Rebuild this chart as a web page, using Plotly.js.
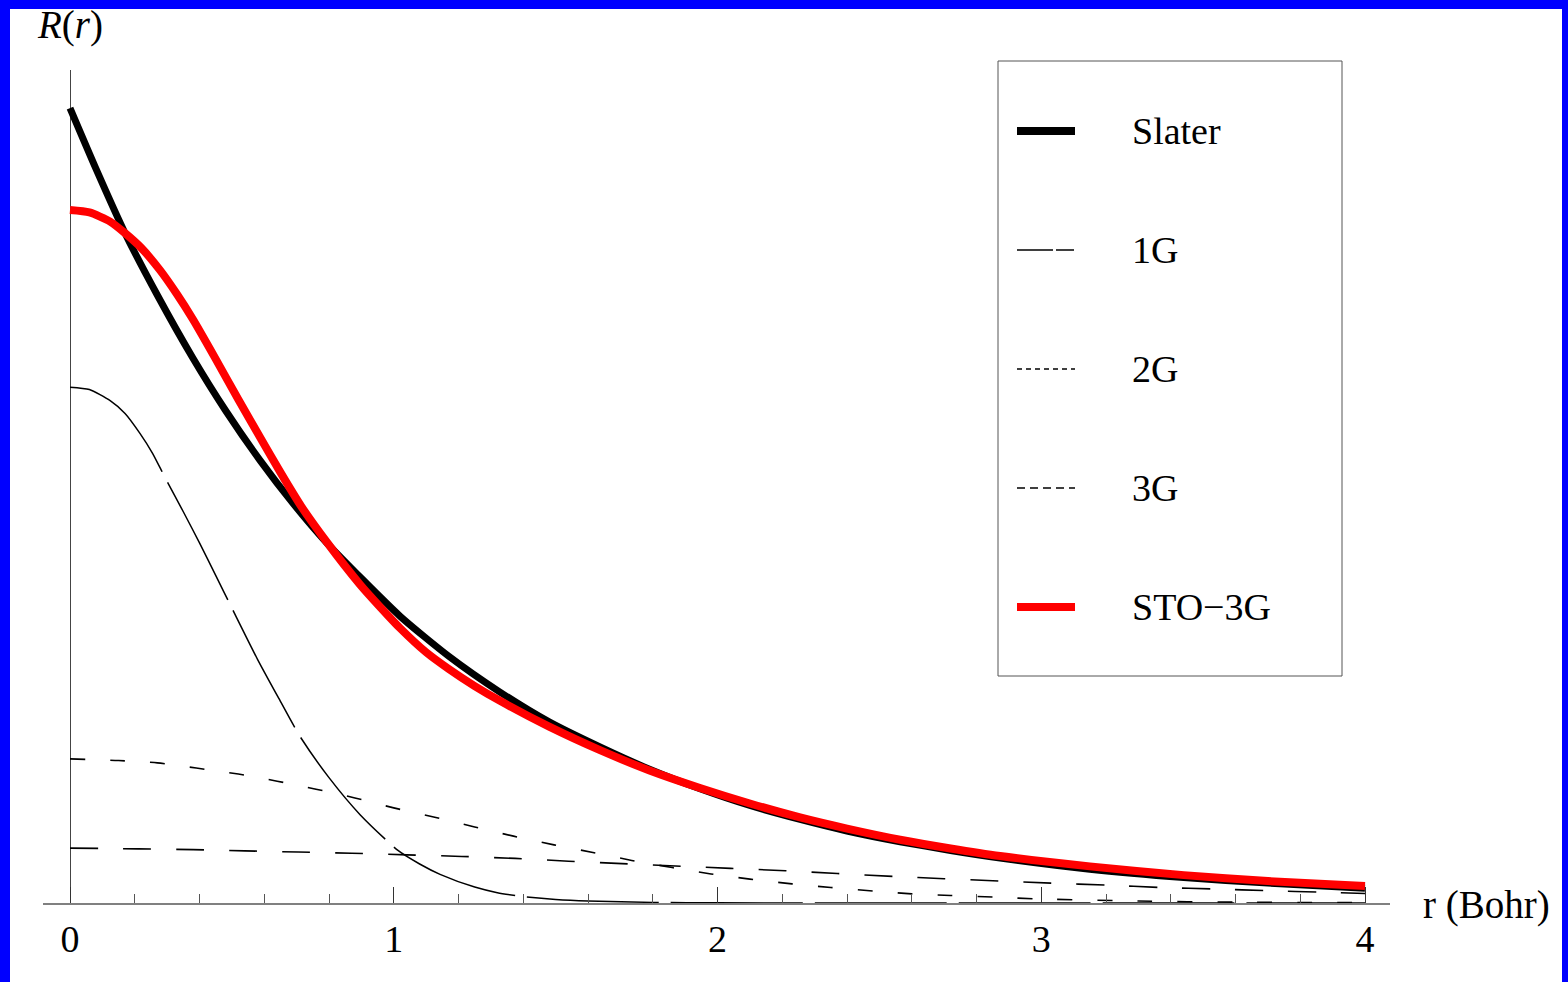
<!DOCTYPE html>
<html><head><meta charset="utf-8">
<script src="https://cdn.plot.ly/plotly-3.0.1.min.js"></script>
<style>
html,body{margin:0;padding:0;background:#fff;width:1568px;height:982px;overflow:hidden;}
#plot{position:absolute;left:0;top:0;width:1568px;height:982px;}
#frame{position:absolute;left:0;top:0;width:1568px;height:982px;box-sizing:border-box;
  border-top:9px solid #0000ff;border-left:10px solid #0000ff;border-right:6px solid #0000ff;border-bottom:0;pointer-events:none;}
</style></head><body><div id="plot"></div><div id="frame"></div>
<script>
// ---- data ----
const r_slater = [0, 0.08, 0.17, 0.27, 0.379, 0.48, 0.587, 0.69, 0.793, 1.019, 1.17, 1.328, 1.48, 1.637, 1.79, 1.946, 2.1, 2.255, 2.4, 2.564, 2.72, 2.873, 3.15, 3.44, 3.7, 4.0];
const slater   = [1.997, 1.845, 1.683, 1.527, 1.370, 1.238, 1.112, 1.003, 0.905, 0.721, 0.620, 0.530, 0.455, 0.392, 0.336, 0.287, 0.245, 0.210, 0.181, 0.154, 0.132, 0.113, 0.085, 0.064, 0.050, 0.037];

const r_g1 = [0, 0.06, 0.124, 0.17, 0.216, 0.255, 0.293, 0.35, 0.4, 0.45, 0.5, 0.58, 0.645, 0.71, 0.8, 0.896, 1.013, 1.08, 1.143, 1.25, 1.32, 1.4, 1.5, 1.6, 1.8, 2.0, 2.5, 3.0, 3.5, 4.0];
const g1   = [1.296, 1.290, 1.262, 1.230, 1.180, 1.130, 1.070, 0.983, 0.905, 0.823, 0.741, 0.611, 0.514, 0.419, 0.315, 0.222, 0.132, 0.098, 0.072, 0.040, 0.026, 0.016, 0.009, 0.005, 0.0015, 0.0004, 0, 0, 0, 0];

const r_g2 = [0, 0.15, 0.27, 0.39, 0.52, 0.64, 0.76, 0.88, 1.0, 1.13, 1.25, 1.37, 1.495, 1.615, 1.735, 1.86, 1.98, 2.1, 2.23, 2.35, 2.48, 2.6, 2.72, 2.85, 3.0, 3.3, 3.6, 4.0];
const g2   = [0.362, 0.358, 0.352, 0.339, 0.324, 0.306, 0.286, 0.264, 0.239, 0.215, 0.191, 0.168, 0.146, 0.127, 0.107, 0.089, 0.073, 0.060, 0.048, 0.039, 0.030, 0.023, 0.019, 0.015, 0.010, 0.005, 0.002, 0.001];

const r_g3 = [0, 0.21, 0.38, 0.54, 0.705, 0.87, 1.04, 1.21, 1.375, 1.54, 1.705, 1.87, 2.04, 2.21, 2.37, 2.54, 2.7, 2.85, 3.03, 3.2, 3.37, 3.54, 3.7, 3.87, 4.0];
const g3   = [0.138, 0.136, 0.134, 0.131, 0.128, 0.125, 0.121, 0.117, 0.112, 0.105, 0.099, 0.093, 0.087, 0.081, 0.074, 0.067, 0.061, 0.056, 0.050, 0.045, 0.039, 0.035, 0.031, 0.027, 0.024];

const r_sto = [0, 0.06, 0.124, 0.17, 0.22, 0.278, 0.33, 0.38, 0.445, 0.52, 0.587, 0.65, 0.714, 0.793, 0.896, 0.96, 1.019, 1.1, 1.17, 1.25, 1.328, 1.48, 1.637, 1.79, 1.946, 2.1, 2.255, 2.4, 2.564, 2.72, 2.873, 3.15, 3.44, 3.7, 4.0];
const sto   = [1.741, 1.735, 1.712, 1.683, 1.646, 1.590, 1.530, 1.466, 1.374, 1.265, 1.170, 1.082, 0.997, 0.907, 0.800, 0.742, 0.691, 0.630, 0.588, 0.545, 0.508, 0.443, 0.384, 0.333, 0.289, 0.250, 0.215, 0.187, 0.159, 0.137, 0.118, 0.092, 0.070, 0.055, 0.043];

const tickVals   = [0, 1, 2, 3, 4];
const tickLabels = ["0", "1", "2", "3", "4"];
const seriesNames = ["Slater", "1G", "2G", "3G", "STO\u22123G"];

// ---- styling / layout ----
const FONT = "Liberation Serif, Times New Roman, serif";
const W = 1568, H = 982;
const M = {l: 43, r: 178, t: 70, b: 79};
const PW = W - M.l - M.r, PH = H - M.t - M.b;
const px2paperX = px => (px - M.l) / PW;
const py2paperY = py => (M.t + PH - py) / PH;

const styles = [
  {color: "#000000", width: 7, dash: "solid"},
  {color: "#000000", width: 1.5, dash: "132px,12px"},
  {color: "#000000", width: 1.6, dash: "15px,25px"},
  {color: "#000000", width: 1.6, dash: "28px,25px"},
  {color: "#ff0000", width: 8, dash: "solid"}
];
const legendDash = ["solid", "36px,3px,18px", "5px,4px", "8px,5px", "solid"];
const legendWidth = [8, 1.5, 1.5, 1.5, 8];

const xs = [r_slater, r_g1, r_g2, r_g3, r_sto];
const ys = [slater, g1, g2, g3, sto];
const order = [1, 2, 3, 0, 4];

const traces = order.map(i => ({
  x: xs[i], y: ys[i], type: "scatter", mode: "lines", name: seriesNames[i],
  line: {color: styles[i].color, width: styles[i].width, dash: styles[i].dash, shape: "spline", smoothing: 0.6},
  hoverinfo: "skip"
}));

const shapes = [{
  type: "rect", xref: "paper", yref: "paper",
  x0: px2paperX(998), x1: px2paperX(1342), y0: py2paperY(676), y1: py2paperY(61),
  line: {color: "#555555", width: 1}, fillcolor: "rgba(255,255,255,0)"
}];
const annotations = [];
const legendY = [131, 250, 369, 488, 607];
seriesNames.forEach((n, i) => {
  shapes.push({
    type: "line", xref: "paper", yref: "paper",
    x0: px2paperX(1017), x1: px2paperX(1075), y0: py2paperY(legendY[i]), y1: py2paperY(legendY[i]),
    line: {color: styles[i].color, width: legendWidth[i], dash: legendDash[i]}
  });
  annotations.push({
    xref: "paper", yref: "paper", x: px2paperX(1130), y: py2paperY(legendY[i]),
    xanchor: "left", yanchor: "middle", showarrow: false, text: n,
    font: {family: FONT, size: 38, color: "#000"}
  });
});
annotations.push({
  xref: "paper", yref: "paper", x: px2paperX(35), y: py2paperY(25),
  xanchor: "left", yanchor: "middle", showarrow: false,
  text: "<i>R</i>(<i>r</i>)", font: {family: FONT, size: 39, color: "#000"}
});
annotations.push({
  xref: "paper", yref: "paper", x: px2paperX(1421), y: py2paperY(905),
  xanchor: "left", yanchor: "middle", showarrow: false,
  text: "r (Bohr)", font: {family: FONT, size: 39, color: "#000"}
});

const layout = {
  width: W, height: H, margin: M, showlegend: false,
  paper_bgcolor: "#ffffff", plot_bgcolor: "#ffffff",
  xaxis: {
    range: [(43 - 70) / 323.75, (1390 - 70) / 323.75], showgrid: false,
    showline: true, linecolor: "#808080", linewidth: 2,
    zeroline: true, zerolinecolor: "#444444", zerolinewidth: 1,
    tickmode: "array", tickvals: tickVals, ticktext: tickLabels,
    ticks: "inside", ticklen: 16, tickwidth: 1, tickcolor: "#333333",
    ticklabelstandoff: 1,
    tickfont: {family: FONT, size: 38, color: "#000"},
    minor: {dtick: 0.2, tick0: 0, ticks: "inside", ticklen: 9, tickwidth: 1, tickcolor: "#555555", showgrid: false}
  },
  yaxis: {
    range: [0, 833 / 398], showgrid: false, showline: false, zeroline: false,
    showticklabels: false, ticks: ""
  },
  shapes: shapes, annotations: annotations
};

Plotly.newPlot("plot", traces, layout, {staticPlot: true, displayModeBar: false});
</script></body></html>
